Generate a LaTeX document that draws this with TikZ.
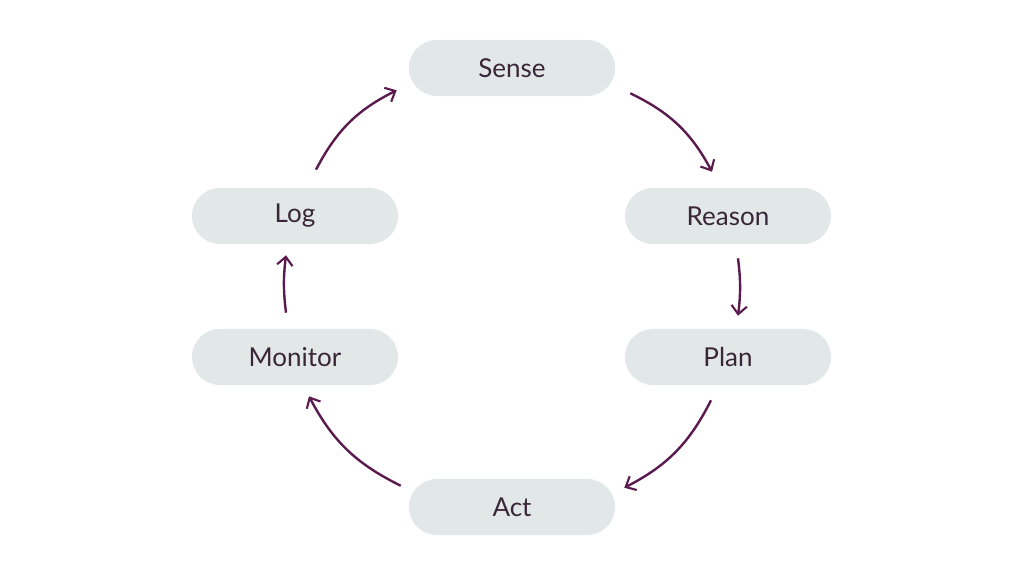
\documentclass[tikz,border=0pt]{standalone}
\usepackage{fontspec}
\setmainfont{Lato}
\usetikzlibrary{arrows.meta,calc}
\definecolor{stepfill}{HTML}{E2E8E8}
\definecolor{steptext}{HTML}{3A2638}
\definecolor{looparrow}{HTML}{5A1A4E}
\begin{document}
\begin{tikzpicture}[x=0.025cm, y=-0.025cm,
		stepbox/.style={fill=stepfill, rounded corners=0.7cm, minimum width=5.15cm,
			minimum height=1.4cm, text=steptext, font=\fontsize{18.5}{22}\selectfont},
		flow/.style={looparrow, line width=1.7pt, -{Straight Barb[length=6pt, width=11pt, line width=1.5pt]}}]
		\useasboundingbox[fill=white] (0,0) rectangle (1024,576);
		% the six stages
		\node[stepbox] (sense) at (512,68) {Sense};
		\node[stepbox] (reason) at (728,216) {Reason};
		\node[stepbox] (plan) at (728,357) {Plan};
		\node[stepbox] (act) at (512,507) {Act};
		\node[stepbox] (monitor) at (295,357) {Monitor};
		\node[stepbox] (log) at (295,216) {Log};
		
		% the loop
		\draw[flow] ($(sense.south east)+(15,-3)$) to[bend left=18] ($(reason.north)+(-16,-16)$);
		\draw[flow] ($(reason.south)+(10,14)$) to[bend left=7] ($(plan.north)+(10,-13)$);
		\draw[flow] ($(plan.south)+(-17,15)$) to[bend left=18] ($(act.north east)+(9,9)$);
		\draw[flow] ($(act.north west)+(-8,7)$) to[bend left=18] ($(monitor.south)+(14,11)$);
		\draw[flow] ($(monitor.north)+(-9,-16)$) to[bend left=7] ($(log.south)+(-9,11)$);
		\draw[flow] ($(log.north)+(21,-18)$) to[bend left=18] ($(sense.south west)+(-12,-6)$);
	\end{tikzpicture}
\end{document}
